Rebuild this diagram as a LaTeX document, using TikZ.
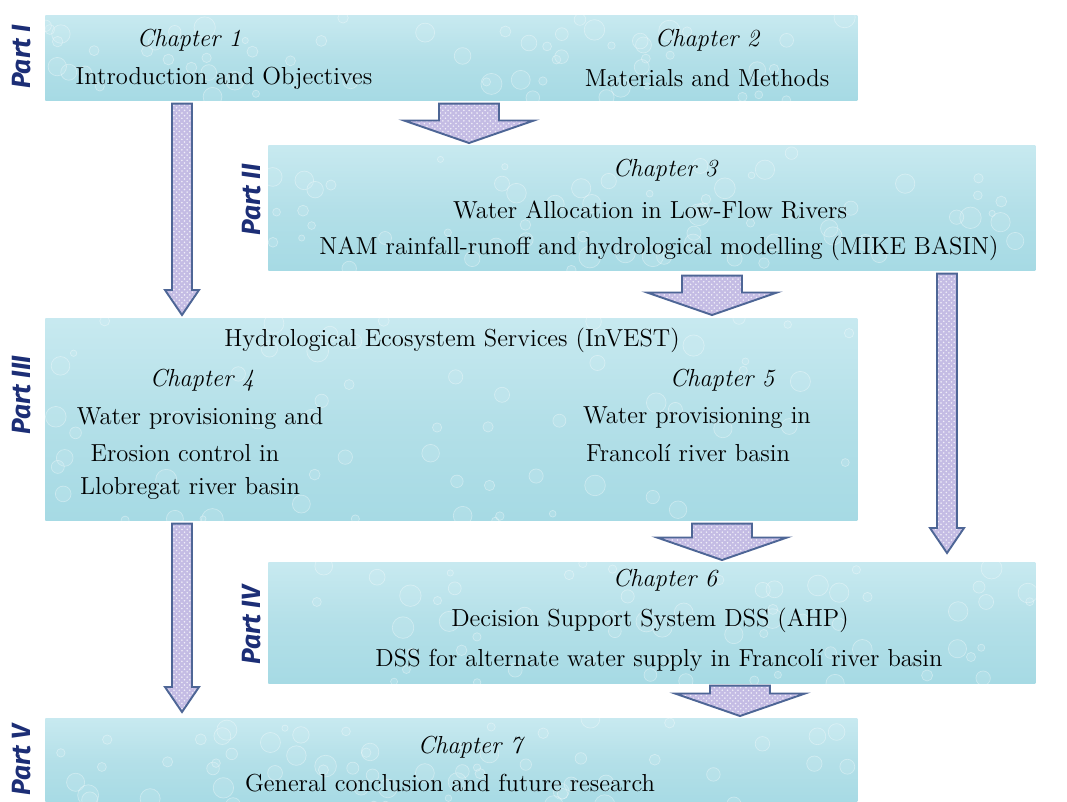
\documentclass[tikz,border=0pt]{standalone}
\usepackage{fontspec}
\newfontfamily\partfont{Fira Sans}
\usetikzlibrary{calc,patterns}

\definecolor{drop}{RGB}{166,218,228}
\definecolor{droplight}{RGB}{214,240,245}
\definecolor{arrowfill}{RGB}{196,188,228}
\definecolor{arrowline}{RGB}{78,102,150}
\definecolor{partblue}{RGB}{28,46,118}

% fat arrow from (#1) down to (#2): half shaft, half head, head length
\newcommand{\fatarrow}[5]{%
  \draw[flow] let \p1=(#1), \p2=(#2) in
    (\x1-#3,\y1) -- (\x1+#3,\y1) -- (\x1+#3,\y2+#5) -- (\x1+#4,\y2+#5)
    -- (\x1,\y2) -- (\x1-#4,\y2+#5) -- (\x1-#3,\y2+#5) -- cycle;}

% water drop texture inside a panel
\newcommand{\drops}[1]{%
  \begin{scope}
    \clip (#1.south west) rectangle (#1.north east);
    \foreach \k in {1,...,60}{
      \pgfmathsetmacro{\rx}{rnd}\pgfmathsetmacro{\ry}{rnd}\pgfmathsetmacro{\rr}{0.06+0.16*rnd}
      \draw[dropring] let \p1=(#1.south west), \p2=(#1.north east) in
        ({\x1+\rx*(\x2-\x1)},{\y1+\ry*(\y2-\y1)}) circle[radius=\rr];
    }
  \end{scope}}

\begin{document}
\begin{tikzpicture}

\tikzset{panel/.style = {anchor=north west, inner sep=0pt, top color=droplight!70!drop, bottom color=drop, middle color=drop!85!white}}
\tikzset{dropring/.style = {draw=white, draw opacity=0.35, fill=droplight, fill opacity=0.2, line width=0.4pt}}
\tikzset{flow/.style = {draw=arrowline, line width=1.1pt, line join=miter, preaction={fill=arrowfill}, pattern=crosshatch dots, pattern color=white!75!arrowfill}}
\tikzset{chap/.style = {font=\fontsize{14}{16}\selectfont\itshape}}
\tikzset{body/.style = {font=\fontsize{14}{16}\selectfont}}
\tikzset{part/.style = {rotate=90, text=partblue, font=\partfont\fontsize{15}{17}\selectfont\bfseries\itshape}}

\useasboundingbox (0,0) rectangle (21.34,-16.02);
\pgfmathsetseed{11}

% panels
\node[panel, minimum width=16.24cm, minimum height=1.7cm] (p1) at (0.9,-0.3) {};
\node[panel, minimum width=15.34cm, minimum height=2.5cm] (p2) at (5.36,-2.9) {};
\node[panel, minimum width=16.24cm, minimum height=4.04cm] (p3) at (0.9,-6.36) {};
\node[panel, minimum width=15.34cm, minimum height=2.42cm] (p4) at (5.36,-11.24) {};
\node[panel, minimum width=16.24cm, minimum height=1.75cm] (p5) at (0.9,-14.36) {};
\drops{p1} \drops{p2} \drops{p3} \drops{p4} \drops{p5}

% part labels
\node[part] (part1) at (0.44,-1.14) {Part I};
\node[part] (part2) at (5.04,-4.0) {Part II};
\node[part] (part3) at (0.44,-7.9) {Part III};
\node[part] (part4) at (5.04,-12.5) {Part IV};
\node[part] (part5) at (0.44,-15.2) {Part V};

% texts
\node[chap] (c1) at (3.78,-0.8) {Chapter 1};
\node[body] (t1) at (4.48,-1.56) {Introduction and Objectives};
\node[chap] (c2) at (14.14,-0.8) {Chapter 2};
\node[body] (t2) at (14.14,-1.56) {Materials and Methods};

\node[chap] (c3) at (13.3,-3.4) {Chapter 3};
\node[body] (t3a) at (13.0,-4.2) {Water Allocation in Low-Flow Rivers};
\node[body] (t3b) at (13.18,-4.96) {NAM rainfall-runoff and hydrological modelling (MIKE BASIN)};

\node[body] (s3) at (9.04,-6.8) {Hydrological Ecosystem Services (InVEST)};
\node[chap] (c4) at (4.04,-7.6) {Chapter 4};
\node[body] (t4a) at (4.0,-8.36) {Water provisioning and};
\node[body] (t4b) at (3.7,-9.06) {Erosion control in};
\node[body] (t4c) at (3.8,-9.76) {Llobregat river basin};
\node[chap] (c5) at (14.44,-7.6) {Chapter 5};
\node[body] (t5a) at (13.94,-8.36) {Water provisioning in};
\node[body] (t5b) at (13.76,-9.06) {Francolí river basin};

\node[chap] (c6) at (13.3,-11.6) {Chapter 6};
\node[body] (t6a) at (13.0,-12.4) {Decision Support System DSS (AHP)};
\node[body] (t6b) at (13.18,-13.2) {DSS for alternate water supply in Francolí river basin};

\node[chap] (c7) at (9.4,-14.94) {Chapter 7};
\node[body] (t7) at (9.0,-15.66) {General conclusion and future research};

% arrows
\coordinate (xa) at (3.64,0);
\coordinate (xb) at (9.38,0);
\coordinate (xc) at (14.24,0);
\coordinate (xd) at (18.94,0);
\coordinate (xf) at (14.44,0);
\coordinate (xg) at (14.8,0);
\fatarrow{$(p1.south -| xa)+(0,-0.06)$}{$(p3.north -| xa)+(0,0.06)$}{0.2cm}{0.34cm}{0.5cm}
\fatarrow{$(p1.south -| xb)+(0,-0.06)$}{$(p2.north -| xb)+(0,0.04)$}{0.6cm}{1.3cm}{0.45cm}
\fatarrow{$(p2.south -| xc)+(0,-0.1)$}{$(p3.north -| xc)+(0,0.06)$}{0.6cm}{1.3cm}{0.45cm}
\fatarrow{$(p2.south -| xd)+(0,-0.06)$}{$(p4.north -| xd)+(0,0.18)$}{0.2cm}{0.34cm}{0.5cm}
\fatarrow{$(p3.south -| xa)+(0,-0.06)$}{$(p5.north -| xa)+(0,0.12)$}{0.2cm}{0.34cm}{0.5cm}
\fatarrow{$(p3.south -| xf)+(0,-0.06)$}{$(p4.north -| xf)+(0,0.04)$}{0.6cm}{1.3cm}{0.45cm}
\fatarrow{$(p4.south -| xg)+(0,-0.04)$}{$(p5.north -| xg)+(0,0.04)$}{0.6cm}{1.3cm}{0.45cm}

\end{tikzpicture}
\end{document}
